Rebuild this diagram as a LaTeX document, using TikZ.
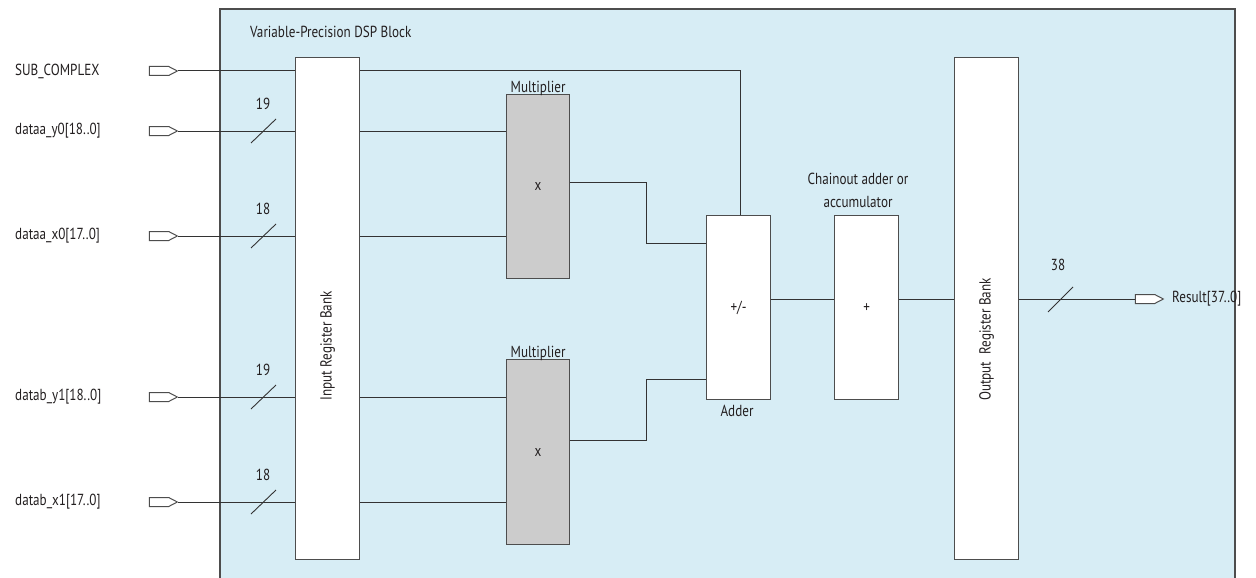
\documentclass[tikz,border=0pt]{standalone}
\usepackage{fontspec}
\setmainfont{PT Sans}[FakeStretch=0.82]
\usetikzlibrary{shapes.symbols}
\definecolor{blockfill}{HTML}{D7EDF5}
\definecolor{boxc}{HTML}{4D4D4D}
\definecolor{wirec}{HTML}{333333}
\definecolor{textc}{HTML}{231F20}
\definecolor{mulfill}{HTML}{CCCCCC}
\begin{document}
\begin{tikzpicture}[x=1pt,y=-1pt,
  wire/.style={draw=wirec, line width=1pt},
  box/.style={draw=boxc, line width=1.2pt, fill=white, inner sep=0pt, anchor=north west},
  mulbox/.style={box, fill=mulfill},
  lbl/.style={font=\fontsize{16}{18}\selectfont, text=textc, inner sep=0pt},
  port/.style={draw=boxc, line width=1pt, fill=white, shape=signal, signal to=east, signal pointer angle=55, minimum width=28pt, minimum height=9pt, inner sep=0pt},
  slash/.style={draw=wirec, line width=0.9pt}
]
\useasboundingbox (0,0) rectangle (1256,578);
\clip (0,0) rectangle (1256,578);
\fill[white] (0,0) rectangle (1256,578);
% DSP block
\draw[draw=boxc, line width=1.2pt, fill=blockfill] (220,9) rectangle (1235,600);
\node[lbl, anchor=west] (title) at (250,32) {Variable-Precision DSP Block};

% blocks
\node[box, minimum width=64pt, minimum height=502pt] (ireg) at (295,57) {};
\node[lbl, rotate=90, anchor=west] at (ireg.center |- 0,401) {Input Register Bank};
\node[box, minimum width=64pt, minimum height=502pt] (oreg) at (954,57) {};
\node[lbl, rotate=90, anchor=west] at (oreg.center |- 0,401) {Output\ \ Register Bank};

\node[mulbox, minimum width=63pt, minimum height=184pt] (mul1) at (506,94) {};
\node[lbl] at (mul1.center) {x};
\node[lbl, anchor=south] at ([yshift=-2pt]mul1.north) {Multiplier};
\node[mulbox, minimum width=63pt, minimum height=185pt] (mul2) at (506,359) {};
\node[lbl] at (mul2.center) {x};
\node[lbl, anchor=south] at ([yshift=-2pt]mul2.north) {Multiplier};

\node[box, minimum width=64pt, minimum height=184pt] (add) at (706,215) {};
\node[lbl] at (add.center) {+/-};
\node[lbl] at (737,411) {Adder};
\node[box, minimum width=64pt, minimum height=184pt] (chain) at (834,215) {};
\node[lbl] at (chain.center) {+};
\node[lbl, align=center] at (858,190.5) {Chainout adder or\\[5pt]accumulator};

% input ports
\node[lbl, anchor=west] at (15,71) {SUB\_COMPLEX};
\node[lbl, anchor=west] at (15,131) {dataa\_y0[18..0]};
\node[lbl, anchor=west] at (15,236) {dataa\_x0[17..0]};
\node[lbl, anchor=west] at (15,397) {datab\_y1[18..0]};
\node[lbl, anchor=west] at (15,502) {datab\_x1[17..0]};
\node[port] (psub) at (159,71) {};
\node[port] (pay) at (159,131) {};
\node[port] (pax) at (159,236) {};
\node[port] (pby) at (159,397) {};
\node[port] (pbx) at (159,502) {};

\draw[wire] (psub.east) -- (psub.east -| ireg.west);
\draw[wire] (pay.east) -- (pay.east -| ireg.west);
\draw[wire] (pax.east) -- (pax.east -| ireg.west);
\draw[wire] (pby.east) -- (pby.east -| ireg.west);
\draw[wire] (pbx.east) -- (pbx.east -| ireg.west);

% bus slashes
\foreach \yy/\w in {131/19,236/18,397/19,502/18}{
  \draw[slash] (251,\yy+12) -- (276,\yy-12);
  \node[lbl] at (263,\yy-27) {\w};
}

% register to multipliers
\draw[wire] (psub.east -| ireg.east) -| (add.north -| 740,0);
\draw[wire] (pay.east -| ireg.east) -- (pay.east -| mul1.west);
\draw[wire] (pax.east -| ireg.east) -- (pax.east -| mul1.west);
\draw[wire] (pby.east -| ireg.east) -- (pby.east -| mul2.west);
\draw[wire] (pbx.east -| ireg.east) -- (pbx.east -| mul2.west);

% multipliers to adder
\draw[wire] (mul1.east |- 0,182) -- (646,182) -- (646,243) -- (add.west |- 0,243);
\draw[wire] (mul2.east |- 0,440) -- (646,440) -- (646,379) -- (add.west |- 0,379);

% adder to chainout to output
\draw[wire] (add.east |- 0,299) -- (chain.west |- 0,299);
\draw[wire] (chain.east |- 0,299) -- (oreg.west |- 0,299);

% output
\node[port] (pres) at (1145,299) {};
\draw[wire] (oreg.east |- pres.west) -- (pres.west);
\draw[slash] (1048,312) -- (1073,287);
\node[lbl] at (1058,265) {38};
\node[lbl, anchor=west] at (1172,299) {Result[37..0]};
\end{tikzpicture}
\end{document}
